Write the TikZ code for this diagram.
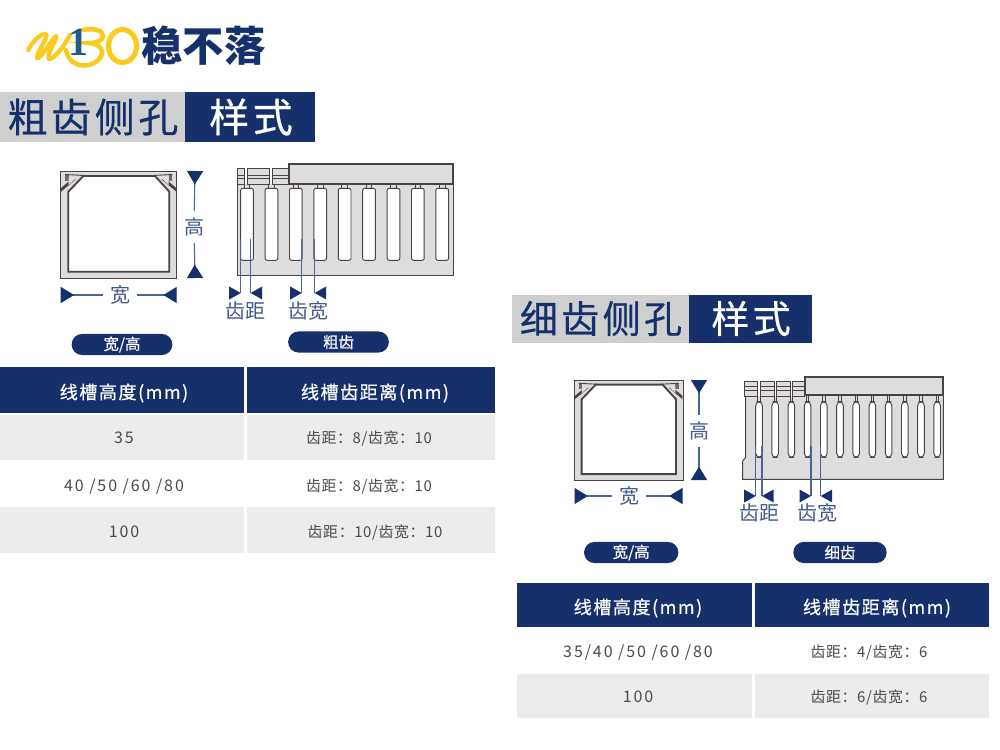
\documentclass[tikz,border=0pt]{standalone}
\usepackage{fontspec}
\setmainfont{Noto Sans CJK SC}
\newfontfamily\logofont{Liberation Serif}
\usetikzlibrary{arrows.meta,calc}

\definecolor{navy}{HTML}{15306A}
\definecolor{dimblue}{HTML}{4A6596}
\definecolor{barblue}{HTML}{1F5A8C}
\definecolor{logoyellow}{HTML}{FBCB1B}
\definecolor{titlegray}{HTML}{CFCFCF}
\definecolor{rowgray}{HTML}{ECECEC}
\definecolor{wallgray}{HTML}{DDDDDD}
\definecolor{ductline}{HTML}{4B4341}
\definecolor{celltext}{HTML}{4A4A4A}

\tikzset{
	titletext/.style={inner sep=0pt,font=\fontsize{30}{32}\selectfont\addfontfeature{LetterSpace=9,FakeBold=0.5}},
	titlesmall/.style={inner sep=0pt,font=\fontsize{28.5}{32}\selectfont\addfontfeature{LetterSpace=9,FakeBold=0.5}},
	headtext/.style={inner sep=0pt,text=white,font=\fontsize{13.6}{16}\selectfont\addfontfeature{LetterSpace=8,FakeBold=0.5}},
	bodytext/.style={inner sep=0pt,text=celltext,font=\fontsize{12}{14}\selectfont\addfontfeature{LetterSpace=12}},
	toothtext/.style={inner sep=0pt,text=celltext,font=\fontsize{11.2}{14}\selectfont\addfontfeature{LetterSpace=4}},
	pill/.style={fill=navy,text=white,inner sep=0pt,rounded corners=7.8pt,minimum height=15.8pt,font=\fontsize{11.6}{13}\selectfont\addfontfeature{FakeBold=0.5}},
	dimtext/.style={inner sep=5pt,text=navy!80!white,font=\fontsize{15}{17}\selectfont},
	dimline/.style={dimblue,line width=0.8pt},
	dimarrow/.style={dimblue,line width=0.8pt},
	bigtip/.style={{Triangle[reversed,length=10pt,width=12pt,color=navy]}-},
	duct/.style={ductline,line width=0.7pt},
	ductheavy/.style={ductline,line width=1.4pt}
}

% square section, origin at the outer top left corner
\newcommand{\ductsection}[3]{
	\begin{scope}[shift={(#1,#2)},scale=#3]
		\filldraw[duct,fill=wallgray] (0,0) rectangle (116,107);
		\filldraw[ductheavy,fill=white] (7.6,20.7) -- (22.6,5) -- (94.3,5) -- (108.6,20.7)
			-- (108.6,100.7) -- (7.6,100.7) -- cycle;
		% corner hooks
		\foreach \mx/\sx in {0/1,116/-1}{
			\begin{scope}[shift={(\mx,0)},xscale=\sx]
				\fill[ductline] (0.5,17) -- (0.5,20.5) -- (15,8.5) -- (12,7) -- cycle;
				\fill[ductline!80!white] (4.3,3.5) rectangle (8,10);
				\draw[duct] (4.3,3.5) -- (24,4.5);
				\fill[wallgray] (8,6.5) -- (16,6.5) -- (8,14) -- cycle;
			\end{scope}
		}
	\end{scope}
}
\newcommand{\tickright}[2]{\fill[navy] (#1,#2) -- ++(-11.5,-6.5) -- ++(0,13) -- cycle;}
\newcommand{\tickleft}[2]{\fill[navy] (#1,#2) -- ++(11.5,-6.5) -- ++(0,13) -- cycle;}

\begin{document}
\begin{tikzpicture}[x=0.75pt,y=-0.75pt]
	\useasboundingbox (0,0) rectangle (1000,750);
	\fill[white] (0,0) rectangle (1000,750);

	% logo
	\draw[logoyellow,line width=3.2pt,line cap=round,line join=round] (28.3,50)
		.. controls (33,40) and (42,33) .. (46,34)
		.. controls (49,36) and (37,52) .. (37,58)
		.. controls (39,61) and (50,42) .. (56,36)
		.. controls (58,38) and (46,54) .. (49,59)
		.. controls (53,60) and (64,47) .. (70,35);
	\draw[logoyellow,line width=3.4pt,line cap=round] (66,50)
		.. controls (68,61) and (76,65.5) .. (84,65.5)
		.. controls (94,65.5) and (102,59) .. (102,52)
		.. controls (102,47) and (96,43) .. (89,43)
		.. controls (96,43) and (103,41) .. (103,36)
		.. controls (103,30) and (94,28) .. (83,30);
	\draw[logoyellow,line width=3.8pt] (122.5,46) ellipse (14 and 16.5);
	\node[inner sep=0pt,text=barblue] (logoone) at (78,42)
		{\logofont\fontsize{30}{30}\selectfont\bfseries 1};
	\node[inner sep=0pt,text=navy] (logoname) at (203.5,46)
		{\fontsize{31}{34}\selectfont\bfseries 稳不落};

	% coarse tooth title
	\fill[titlegray] (0,92) rectangle (185,142);
	\fill[navy] (185,92) rectangle (315,142);
	\node[titletext,text=navy] (titleA) at (93,117) {粗齿侧孔};
	\node[titletext,text=white] (styleA) at (251,117) {样式};

	% coarse tooth section
	\ductsection{60.7}{171}{1}
	\node[dimtext] (widthA) at (120,295) {宽};
	\node[dimtext] (heightA) at (194,227) {高};
	\coordinate (wA1) at (60.7,295);
	\coordinate (wA2) at (176.7,295);
	\coordinate (hA1) at (195,171);
	\coordinate (hA2) at (195,278);
	\draw[dimarrow,bigtip] (wA1) -- (widthA);
	\draw[dimarrow,bigtip] (wA2) -- (widthA);
	\draw[dimarrow,bigtip] (hA1) -- (heightA);
	\draw[dimarrow,bigtip] (hA2) -- (heightA);
	\node[pill,minimum width=75.5pt] (pillA1) at (122,344.5) {宽/高};

	% coarse tooth comb
	\fill[wallgray] (237.3,184.3) rectangle (453.3,275);
	\draw[duct] (237.3,168.3) -- (237.3,275) -- (453.3,275) -- (453.3,184.3);
	\foreach \a/\b in {237.3/244,247.7/269.3,272.7/289.3}{
		\filldraw[duct,fill=wallgray] (\a,168.3) rectangle (\b,184.3);
		\draw[duct] (\a,175.7) -- (\b,175.7);
		\draw[duct] (\a,178.3) -- (\b,178.3);
	}
	\foreach \i [evaluate=\i as \sx using 240.7+24.4*\i] in {0,...,8}{
		\filldraw[duct,fill=white,rounded corners=1.5pt] (\sx,188.3) rectangle (\sx+12.7,260.3);
		\draw[duct] (\sx+3.5,184.3) -- (\sx+3.5,188.3);
		\draw[duct] (\sx+9.2,184.3) -- (\sx+9.2,188.3);
	}
	\filldraw[ductheavy,fill=wallgray] (289.3,164) rectangle (453.3,184.3);

	% coarse tooth marks
	\coordinate (pA1) at (240.7,239);
	\coordinate (pA2) at (240.7,293);
	\coordinate (pA3) at (250.7,239);
	\coordinate (pA4) at (250.7,293);
	\coordinate (tA1) at (301.7,239);
	\coordinate (tA2) at (301.7,293);
	\coordinate (tA3) at (314.7,239);
	\coordinate (tA4) at (314.7,293);
	\draw[dimline] (pA1) -- (pA2);
	\draw[dimline] (pA3) -- (pA4);
	\draw[dimline] (tA1) -- (tA2);
	\draw[dimline] (tA3) -- (tA4);
	\tickright{240.7}{293}
	\tickleft{250.7}{293}
	\tickright{301.7}{293}
	\tickleft{314.7}{293}
	\node[dimtext] (pitchA) at (245,311) {齿距};
	\node[dimtext] (toothA) at (308,311) {齿宽};
	\node[pill,minimum width=75.5pt] (pillA2) at (338.5,342) {粗齿};

	% coarse tooth table
	\fill[navy] (0,367) rectangle (244,413);
	\fill[navy] (247,367) rectangle (495,413);
	\fill[rowgray] (0,415) rectangle (244,460);
	\fill[rowgray] (247,415) rectangle (495,460);
	\fill[rowgray] (0,507) rectangle (244,553);
	\fill[rowgray] (247,507) rectangle (495,553);
	\node[headtext] (headA1) at (124,393) {线槽高度(mm)};
	\node[headtext] (headA2) at (375,393) {线槽齿距离(mm)};
	\node[bodytext] (rowA1) at (124,438) {35};
	\node[toothtext] (valA1) at (369,438) {齿距：8/齿宽：10};
	\node[bodytext] (rowA2) at (124,487) {40 /50 /60 /80};
	\node[toothtext] (valA2) at (369,486) {齿距：8/齿宽：10};
	\node[bodytext] (rowA3) at (124,532) {100};
	\node[toothtext] (valA3) at (375,532) {齿距：10/齿宽：10};

	% fine tooth title
	\fill[titlegray] (512,295) rectangle (689,343);
	\fill[navy] (689,295) rectangle (812,343);
	\node[titlesmall,text=navy] (titleB) at (601,318.5) {细齿侧孔};
	\node[titlesmall,text=white] (styleB) at (751,318.5) {样式};

	% fine tooth section
	\ductsection{574.5}{380}{0.935}
	\node[dimtext] (widthB) at (629,496) {宽};
	\node[dimtext] (heightB) at (699,431) {高};
	\coordinate (wB1) at (574.5,496);
	\coordinate (wB2) at (682.5,496);
	\coordinate (hB1) at (699,380);
	\coordinate (hB2) at (699,480);
	\draw[dimarrow,bigtip] (wB1) -- (widthB);
	\draw[dimarrow,bigtip] (wB2) -- (widthB);
	\draw[dimarrow,bigtip] (hB1) -- (heightB);
	\draw[dimarrow,bigtip] (hB2) -- (heightB);
	\node[pill,minimum width=70.7pt] (pillB1) at (631.2,552.5) {宽/高};

	% fine tooth comb
	\fill[wallgray] (745.7,396) rectangle (943.3,458);
	\fill[wallgray] (742.7,458) rectangle (943.3,479.3);
	\draw[duct] (745.7,396) -- (745.7,457.3) -- (742.7,461) -- (742.7,479.3) -- (943.3,479.3) -- (943.3,395.3);
	\foreach \a/\b in {744/757.3,760.3/774,776.7/790,792.7/804.7}{
		\filldraw[duct,fill=wallgray] (\a,381.7) rectangle (\b,396);
		\draw[duct] (\a,386) -- (\b,386);
		\draw[duct] (\a,390.7) -- (\b,390.7);
	}
	\foreach \i [evaluate=\i as \cx using 759+16.2*\i] in {0,...,11}{
		\filldraw[duct,fill=white,rounded corners=3pt] (\cx-3.3,401.7) -- (\cx-3.3,457.3)
			-- (\cx+3.3,457.3) -- (\cx+3.3,401.7) -- cycle;
		\draw[duct] (\cx-1.2,395.3) -- (\cx-1.2,401.7);
		\draw[duct] (\cx+1.2,395.3) -- (\cx+1.2,401.7);
	}
	\filldraw[ductheavy,fill=wallgray] (804.7,376.7) rectangle (943.3,395.3);

	% fine tooth marks
	\coordinate (pB1) at (755.7,446);
	\coordinate (pB2) at (755.7,496);
	\coordinate (pB3) at (762,446);
	\coordinate (pB4) at (762,496);
	\coordinate (tB1) at (811,446);
	\coordinate (tB2) at (811,496);
	\coordinate (tB3) at (820.7,446);
	\coordinate (tB4) at (820.7,496);
	\draw[dimline] (pB1) -- (pB2);
	\draw[dimline] (pB3) -- (pB4);
	\draw[dimline] (tB1) -- (tB2);
	\draw[dimline] (tB3) -- (tB4);
	\tickright{755.7}{496}
	\tickleft{762}{496}
	\tickright{811}{496}
	\tickleft{820.7}{496}
	\node[dimtext] (pitchB) at (759,513) {齿距};
	\node[dimtext] (toothB) at (817,513) {齿宽};
	\node[pill,minimum width=70pt] (pillB2) at (840,552.5) {细齿};

	% fine tooth table
	\fill[navy] (517,583) rectangle (752,627);
	\fill[navy] (755,583) rectangle (989,627);
	\fill[rowgray] (517,674) rectangle (752,718);
	\fill[rowgray] (755,674) rectangle (989,718);
	\node[headtext] (headB1) at (638,608) {线槽高度(mm)};
	\node[headtext] (headB2) at (877,608) {线槽齿距离(mm)};
	\node[bodytext] (rowB1) at (638,653) {35/40 /50 /60 /80};
	\node[toothtext] (valB1) at (869,652) {齿距：4/齿宽：6};
	\node[bodytext] (rowB2) at (638,697) {100};
	\node[toothtext] (valB2) at (869,697) {齿距：6/齿宽：6};
\end{tikzpicture}
\end{document}
